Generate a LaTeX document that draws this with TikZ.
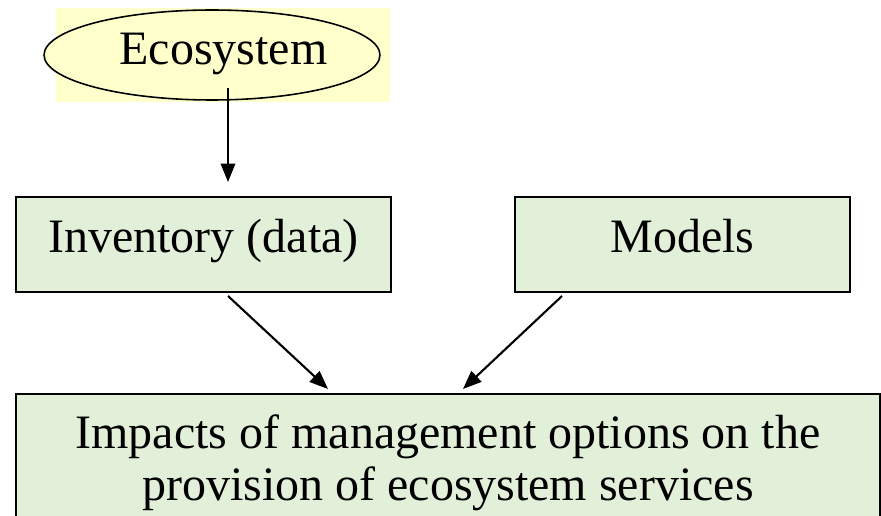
\documentclass[tikz,border=0pt]{standalone}
\usepackage{fontspec}
\setmainfont{Liberation Serif}
\usetikzlibrary{arrows.meta,shapes.geometric}
\definecolor{ecoyellow}{RGB}{255,255,204}
\definecolor{boxgreen}{RGB}{226,239,217}
\begin{document}
\begin{tikzpicture}[x=0.02cm,y=-0.02cm,font=\fontsize{27.3pt}{29.6pt}\selectfont,
  eco/.style={shape=ellipse,draw=black,line width=0.9pt,fill=ecoyellow,minimum width=6.72cm,minimum height=1.8cm,inner sep=0pt},
  stage/.style={shape=rectangle,draw=black,line width=1.2pt,fill=boxgreen,inner sep=0pt},
  smallstage/.style={stage,minimum height=1.9cm,text height=0.672cm,text depth=0.332cm},
  flow/.style={line width=1.2pt,-{Triangle[length=0.37cm,width=0.29cm]}}]
\useasboundingbox (0,0) rectangle (881,516);

\fill[ecoyellow] (56,8) rectangle (390,102);
\node[eco] (E) at (212,55) {};
\node[anchor=base] (Etxt) at (223.5,65) {Ecosystem};

\node[smallstage,minimum width=7.5cm] (I) at (203.5,244.5) {Inventory (data)};
\node[smallstage,minimum width=6.7cm] (M) at (682.5,244.5) {Models};

\node[stage,minimum width=17.28cm,minimum height=2.74cm,align=center,anchor=north] (P) at (448,393)
  {Impacts of management options on the\\provision of ecosystem services};

\coordinate (Eout) at (228,88);
\coordinate (Iin) at (228,182);
\draw[flow] (Eout) -- (Iin);
\coordinate (Iout) at (228,296);
\coordinate (PinL) at (328,389);
\draw[flow] (Iout) -- (PinL);
\coordinate (Mout) at (562,296);
\coordinate (PinR) at (463,389);
\draw[flow] (Mout) -- (PinR);
\end{tikzpicture}
\end{document}
